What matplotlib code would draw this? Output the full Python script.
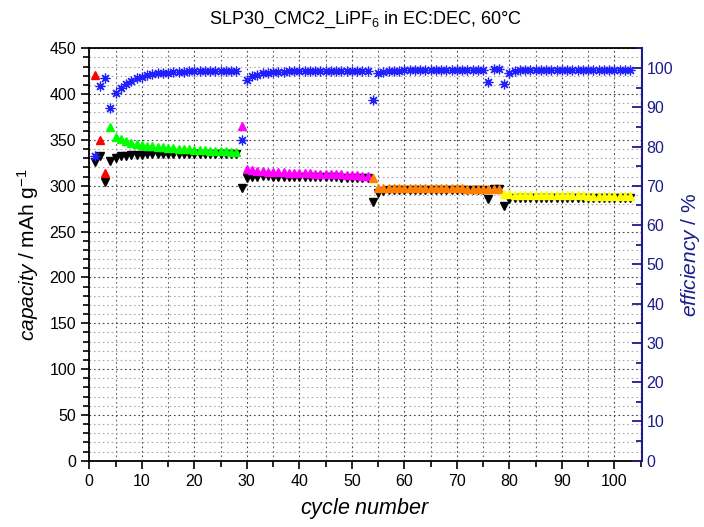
import matplotlib
matplotlib.use("Agg")
import matplotlib.pyplot as plt
from matplotlib.ticker import MultipleLocator

plt.rcParams['font.family'] = ['Liberation Sans', 'DejaVu Sans']
plt.rcParams['mathtext.fontset'] = 'custom'
plt.rcParams['mathtext.rm'] = 'Liberation Sans'
plt.rcParams['mathtext.it'] = 'Liberation Sans:italic'

cycles = list(range(1, 104))

# charge capacity (mAh/g), one block per test segment
charge_red = [421, 350, 314]
charge_green = [364.5, 353.5, 351, 348.5, 346.5, 345.5, 344.5, 343.8, 343.2, 342.6,
                342.0, 341.5, 341.0, 340.6, 340.2, 339.8, 339.4, 339.0, 338.7, 338.4,
                338.1, 337.8, 337.5, 337.2, 337.0]
charge_magenta = [365.5, 318, 317, 316.5, 316, 315.5, 315.2, 315, 314.7, 314.4,
                  314.2, 314, 313.8, 313.6, 313.4, 313.2, 313, 312.8, 312.6, 312.4,
                  312.2, 312, 311.5, 311, 310.5]
charge_orange = [308.8, 297.2, 297.5, 298, 298, 298, 297.8, 297.8, 297.6, 297.6,
                 297.5, 297.5, 297.4, 297.4, 297.3, 297.2, 297.2, 297.1, 297, 297,
                 297, 296.9, 296.8, 296.7, 296.5]
charge_yellow = [291, 290.5, 290.3, 290.2, 290.1, 290, 290, 289.9, 289.8, 289.8,
                 289.7, 289.6, 289.6, 289.5, 289.5, 289.4, 289.3, 289.3, 289.2, 289.2,
                 289.1, 289, 289, 288.9, 288.8]

# discharge capacity (mAh/g), cycles 1-103
discharge = [326, 332, 304.5, 327.4, 330.5, 332, 332.8, 333.3, 333.7, 334,
             334.2, 334.4, 334.5, 334.6, 334.7, 334.7, 334.8, 334.8, 334.8, 334.8,
             334.8, 334.7, 334.7, 334.6, 334.5, 334.4, 334.3, 334.2,
             298, 308, 309.5, 310, 310.2, 310.2, 310.1, 310, 310, 309.9,
             309.8, 309.8, 309.7, 309.6, 309.5, 309.4, 309.3, 309.2, 309.1, 309,
             308.9, 308.8, 308.7, 308.6, 308.5,
             282.6, 292, 294, 295, 295.5, 295.6, 295.6, 295.6, 295.5, 295.5,
             295.5, 295.4, 295.4, 295.4, 295.3, 295.3, 295.3, 295.2, 295.2, 295.2,
             295.1, 295.1, 285.3, 296.5, 296,
             278.3, 285.5, 286.2, 286.5, 286.6, 286.7, 286.7, 286.7, 286.7, 286.7,
             286.6, 286.6, 286.6, 286.6, 286.5, 286.5, 286.5, 286.5, 286.4, 286.4,
             286.4, 286.3, 286.3, 286.3, 286.2]

# coulombic efficiency (%), cycles 1-103
efficiency = [77.7, 95.4, 97.4, 89.9, 93.7, 94.8, 95.9, 96.8, 97.4, 97.8,
              98.1, 98.4, 98.6, 98.7, 98.8, 98.9, 99.0, 99.0, 99.1, 99.1,
              99.2, 99.2, 99.2, 99.3, 99.3, 99.3, 99.3, 99.3,
              81.7, 96.9, 98.0, 98.3, 98.6, 98.8, 98.9, 99.0, 99.0, 99.1,
              99.1, 99.2, 99.2, 99.2, 99.3, 99.3, 99.3, 99.3, 99.3, 99.3,
              99.3, 99.3, 99.3, 99.3, 99.3,
              91.9, 98.6, 99.0, 99.2, 99.3, 99.3, 99.4, 99.4, 99.4, 99.4,
              99.5, 99.5, 99.5, 99.5, 99.5, 99.5, 99.5, 99.5, 99.5, 99.5,
              99.5, 99.5, 96.3, 99.8, 99.8,
              95.9, 98.8, 99.2, 99.4, 99.5, 99.5, 99.5, 99.6, 99.6, 99.6,
              99.6, 99.6, 99.6, 99.6, 99.6, 99.6, 99.6, 99.6, 99.6, 99.6,
              99.6, 99.6, 99.6, 99.6, 99.6]

segments = [
    (charge_red, '#ff0000'),
    (charge_green, '#00ff00'),
    (charge_magenta, '#ff00ff'),
    (charge_orange, '#ff8000'),
    (charge_yellow, '#ffff00'),
]

navy = '#1c1c8c'

fig = plt.figure(figsize=(7.04, 5.27), dpi=100)
ax = fig.add_axes([0.1268, 0.1258, 0.7847, 0.7825])

ax.plot(cycles, discharge, linestyle='none', marker='v', color='black',
        markersize=5.5, zorder=3)
start = 1
for vals, col in segments:
    xs = list(range(start, start + len(vals)))
    ax.plot(xs, vals, linestyle='none', marker='^', color=col,
            markersize=5.5, zorder=4)
    start += len(vals)

ax.set_xlim(0, 105.2)
ax.set_ylim(0, 450)
ax.xaxis.set_major_locator(MultipleLocator(10))
ax.xaxis.set_minor_locator(MultipleLocator(5))
ax.yaxis.set_major_locator(MultipleLocator(50))
ax.yaxis.set_minor_locator(MultipleLocator(10))
ax.tick_params(axis='both', which='major', direction='out', length=6, width=1.2,
               labelsize=11.5)
ax.tick_params(axis='both', which='minor', direction='out', length=4, width=1.2)
ax.tick_params(axis='y', right=False)

ax.grid(True, which='major', axis='both', linestyle=(0, (1.5, 2.5)),
        color='#444444', linewidth=0.8)
ax.grid(True, which='minor', axis='x', linestyle=(0, (1.5, 2.5)),
        color='#666666', linewidth=0.8)
ax.grid(True, which='minor', axis='y', linestyle=(0, (1.5, 2.5)),
        color='#aaaaaa', linewidth=0.8)
ax.set_axisbelow(True)

for s in ax.spines.values():
    s.set_linewidth(1.3)

ax.set_xlabel(r'$\mathit{cycle\ number}$', fontsize=15.5, labelpad=5)
ax.set_ylabel(r'$\mathit{capacity}$ / mAh g$^{-1}$', fontsize=15, labelpad=6)
ax.set_title(r'SLP30_CMC2_LiPF$_6$ in EC:DEC, 60°C', fontsize=13, pad=18)

ax2 = ax.twinx()
ax2.plot(cycles, efficiency, linestyle='none', marker=(8, 2, 0), color='#2020ff',
         markersize=7, markeredgewidth=0.9, zorder=5)
ax2.set_ylim(0, 105)
ax2.yaxis.set_major_locator(MultipleLocator(10))
ax2.yaxis.set_minor_locator(MultipleLocator(5))
ax2.tick_params(axis='y', which='major', direction='in', length=7, width=1.3,
                colors=navy, labelsize=11.5)
ax2.tick_params(axis='y', which='minor', direction='in', length=4, width=1.3,
                colors=navy)
ax2.spines['right'].set_color(navy)
ax2.spines['right'].set_linewidth(1.5)
for side in ('left', 'top', 'bottom'):
    ax2.spines[side].set_visible(False)
ax2.set_ylabel(r'$\mathit{efficiency}$ / %', fontsize=15, color=navy, labelpad=4)

fig.savefig('out.png', dpi=100)
